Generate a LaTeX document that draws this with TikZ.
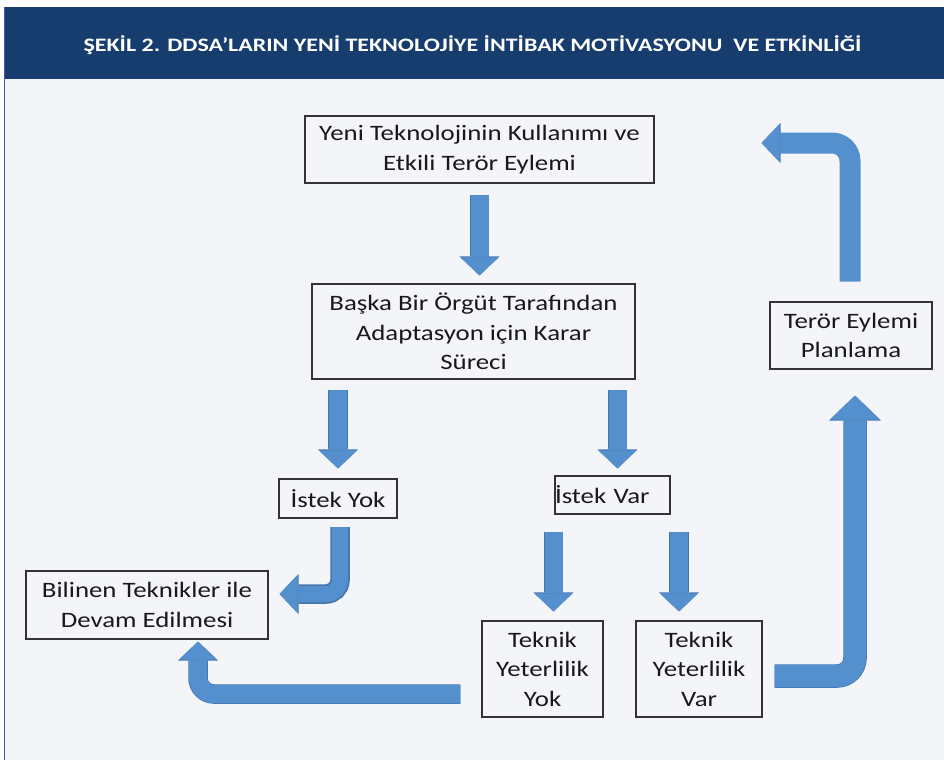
\documentclass[tikz,border=0pt]{standalone}
\usepackage{fontspec}
\setmainfont{Carlito}
\newfontfamily\widefont[FakeStretch=1.22]{Carlito}
\newfontfamily\titlefont[FakeStretch=1.26]{Carlito}
\usetikzlibrary{arrows.meta,calc,positioning}

\definecolor{titleblue}{RGB}{23,60,110}
\definecolor{panelgray}{RGB}{243,245,249}
\definecolor{arrowblue}{RGB}{85,144,206}
\definecolor{arrowedge}{RGB}{70,118,176}

\begin{document}
\begin{tikzpicture}[
    x=1pt, y=-1pt,
    box/.style={rectangle, draw=black!80, line width=1.1pt, fill=panelgray, text=black!90, align=center, inner sep=0pt, font=\widefont\fontsize{22}{29.5}\selectfont},
    flow/.style={line width=18pt, draw=arrowblue, -{Triangle[width=38pt,length=18pt,line width=0pt]},
        preaction={draw=arrowedge, line width=19.5pt, -{Triangle[width=40pt,length=19pt,line width=0pt]}}},
    bigflow/.style={line width=22pt, draw=arrowblue, -{Triangle[width=50pt,length=24pt,line width=0pt]},
        preaction={draw=arrowedge, line width=23.5pt, -{Triangle[width=52pt,length=25pt,line width=0pt]}}}
]
\useasboundingbox (0,0) rectangle (944,760);

% Background and title bar
\fill[white] (0,0) rectangle (944,760);
\fill[panelgray] (5,79) rectangle (944,760);
\draw[blue!35!gray, line width=0.8pt] (4.5,7) -- (4.5,760);
\fill[titleblue] (5,7) rectangle (944,79);
\node[text=white, font=\titlefont\bfseries\fontsize{19}{23}\selectfont] (title) at (472.5,45)
    {ŞEKİL 2. DDSA’LARIN YENİ TEKNOLOJİYE İNTİBAK MOTİVASYONU\ \ VE ETKİNLİĞİ};

% Boxes
\node[box, minimum width=349pt, minimum height=67pt] (tech) at (479.5,149.5)
    {Yeni Teknolojinin Kullanımı ve\\Etkili Terör Eylemi};
\node[box, minimum width=323pt, minimum height=95pt] (decide) at (473.5,331.5)
    {Başka Bir Örgüt Tarafından\\Adaptasyon için Karar\\Süreci};
\node[box, minimum width=118pt, minimum height=39pt] (yok) at (338,498.5) {İstek Yok};
\node[box, text width=115pt, align=left, minimum height=38pt] (var) at (612.5,495) {İstek Var};
\node[box, minimum width=242pt, minimum height=68pt] (known) at (147,605)
    {Bilinen Teknikler ile\\Devam Edilmesi};
\node[box, minimum width=121pt, minimum height=96pt] (tyok) at (542.5,669)
    {Teknik\\Yeterlilik\\Yok};
\node[box, minimum width=126pt, minimum height=96pt] (tvar) at (699,669)
    {Teknik\\Yeterlilik\\Var};
\node[box, minimum width=162pt, minimum height=67pt] (plan) at (851,335.5)
    {Terör Eylemi\\Planlama};

% Entry points of the straight arrows
\coordinate (varin) at ($(var.north)+(5,0)$);
\coordinate (tyokin) at ($(tyok.north)+(11,0)$);
\coordinate (tvarin) at ($(tvar.north)+(-20,0)$);

% Straight arrows
\draw[flow, shorten <=11pt, shorten >=8pt] (tech.south) -- (tech.south |- decide.north);
\draw[flow, shorten <=10pt, shorten >=10pt] (decide.south -| yok.north) -- (yok.north);
\draw[flow, shorten <=10pt, shorten >=7pt] (decide.south -| varin) -- (varin);
\draw[flow, shorten <=17pt, shorten >=9pt] (var.south -| tyokin) -- (tyokin);
\draw[flow, shorten <=17pt, shorten >=9pt] (var.south -| tvarin) -- (tvarin);

% Bent arrows
\draw[flow, line width=16pt, rounded corners=14pt] ($(yok.south)+(2,8.5)$) |- ($(known.east)+(11,-11)$);
\draw[flow, rounded corners=16pt] ($(tyok.west)+(-21,25)$) -| ($(known.south)+(51,2)$);
\draw[bigflow, rounded corners=18pt] ($(tvar.east)+(12,7)$) -| ($(plan.south)+(4,26)$);
\draw[flow, line width=21pt, rounded corners=18pt] ($(plan.north)+(-1,-20)$) |- ($(tech.east)+(107,-6.5)$);

\end{tikzpicture}
\end{document}
